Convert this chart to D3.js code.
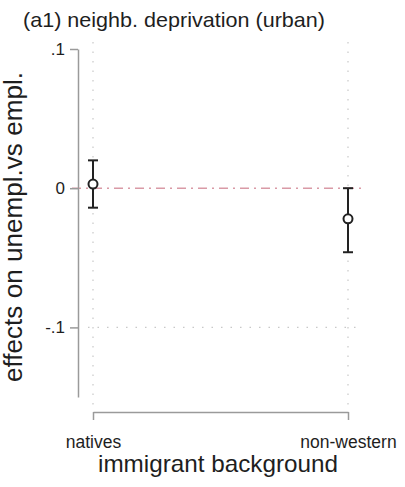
<!DOCTYPE html>
<html>
<head>
<meta charset="utf-8">
<script src="https://cdn.jsdelivr.net/npm/d3@7.9.0/dist/d3.min.js"></script>
<style>
  body { margin: 0; background: #fff; }
  svg { display: block; font-family: "Liberation Sans", Arial, sans-serif; }
</style>
</head>
<body>
<svg id="chart" width="405" height="487"></svg>
<script>
// data
const groups = ['natives', 'non-western'];
const estimates = [0.003, -0.022];
const lowerCI = [-0.014, -0.046];
const upperCI = [0.020, 0.000];
const yTicks = [-0.1, 0, 0.1];
const yTickLabels = ['-.1', '0', '.1'];

const svg = d3.select('#chart');

const x = d3.scalePoint().domain(groups).range([93, 348]);
const y = d3.scaleLinear().domain([-0.15, 0.1]).range([397, 49]);

const axisColor = '#9a9a9a';
const textColor = '#1e1e1e';

// title
svg.append('text')
  .attr('x', 23).attr('y', 27)
  .attr('font-size', 21).attr('fill', textColor)
  .attr('textLength', 302).attr('lengthAdjust', 'spacingAndGlyphs')
  .text('(a1) neighb. deprivation (urban)');

// vertical dotted grid lines at each category
svg.selectAll('.vgrid')
  .data(groups)
  .enter().append('line')
  .attr('x1', d => x(d)).attr('x2', d => x(d))
  .attr('y1', 42).attr('y2', 406)
  .attr('stroke', '#c8c8c8').attr('stroke-width', 1.2)
  .attr('stroke-dasharray', '1.5,8');

// horizontal dotted grid at -.1
svg.append('line')
  .attr('x1', 88).attr('x2', 362)
  .attr('y1', y(-0.1)).attr('y2', y(-0.1))
  .attr('stroke', '#c8c8c8').attr('stroke-width', 1.2)
  .attr('stroke-dasharray', '1.5,8');

// reference line at zero
svg.append('line')
  .attr('x1', 72).attr('x2', 362)
  .attr('y1', y(0)).attr('y2', y(0))
  .attr('stroke', '#d99aa6').attr('stroke-width', 1.6)
  .attr('stroke-dasharray', '9,5,2,5');

// y axis
const yAxis = svg.append('g')
  .attr('transform', 'translate(78,0)')
  .call(d3.axisLeft(y)
    .tickValues(yTicks)
    .tickFormat((d, i) => yTickLabels[i])
    .tickSize(8).tickSizeOuter(0).tickPadding(5));
yAxis.select('.domain').attr('stroke', axisColor).attr('stroke-width', 1.5);
yAxis.selectAll('.tick line').attr('stroke', axisColor).attr('stroke-width', 1.5);
yAxis.selectAll('.tick text')
  .attr('font-size', 17).attr('fill', textColor)
  .attr('font-family', '"Liberation Sans", Arial, sans-serif');

// x axis
const xAxis = svg.append('g')
  .attr('transform', 'translate(0,412)')
  .call(d3.axisBottom(x).tickSize(8).tickSizeOuter(0).tickPadding(16));
xAxis.select('.domain').attr('stroke', axisColor).attr('stroke-width', 1.5);
xAxis.selectAll('.tick line').attr('stroke', axisColor).attr('stroke-width', 1.5);
xAxis.selectAll('.tick text')
  .attr('font-size', 17.5).attr('fill', textColor)
  .attr('font-family', '"Liberation Sans", Arial, sans-serif');

// axis titles
svg.append('text')
  .attr('x', 218).attr('y', 472)
  .attr('text-anchor', 'middle')
  .attr('font-size', 24).attr('fill', textColor)
  .attr('textLength', 240).attr('lengthAdjust', 'spacingAndGlyphs')
  .text('immigrant background');

svg.append('text')
  .attr('transform', 'translate(22,227) rotate(-90)')
  .attr('text-anchor', 'middle')
  .attr('font-size', 25).attr('fill', textColor)
  .attr('textLength', 310).attr('lengthAdjust', 'spacingAndGlyphs')
  .text('effects on unempl.vs empl.');

// confidence intervals
const rows = groups.map((g, i) => ({ g, est: estimates[i], lo: lowerCI[i], hi: upperCI[i] }));

const ci = svg.selectAll('.ci')
  .data(rows)
  .enter().append('g');

ci.append('line')
  .attr('x1', d => x(d.g)).attr('x2', d => x(d.g))
  .attr('y1', d => y(d.hi)).attr('y2', d => y(d.lo))
  .attr('stroke', '#222').attr('stroke-width', 2);

ci.append('line')
  .attr('x1', d => x(d.g) - 5).attr('x2', d => x(d.g) + 5)
  .attr('y1', d => y(d.hi)).attr('y2', d => y(d.hi))
  .attr('stroke', '#222').attr('stroke-width', 2);

ci.append('line')
  .attr('x1', d => x(d.g) - 5).attr('x2', d => x(d.g) + 5)
  .attr('y1', d => y(d.lo)).attr('y2', d => y(d.lo))
  .attr('stroke', '#222').attr('stroke-width', 2);

ci.append('circle')
  .attr('cx', d => x(d.g)).attr('cy', d => y(d.est))
  .attr('r', 4.5)
  .attr('fill', '#fff').attr('stroke', '#222').attr('stroke-width', 2);
</script>
</body>
</html>
